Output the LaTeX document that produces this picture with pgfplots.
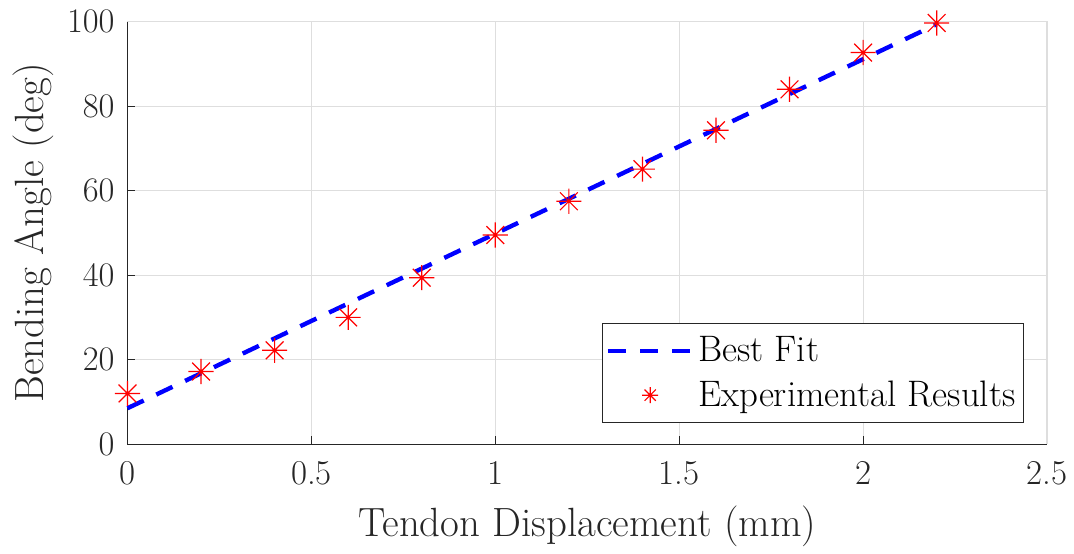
\documentclass[border=0pt]{standalone}
\usepackage{pgfplots}
\pgfplotsset{compat=1.18}
\definecolor{gridgray}{gray}{0.87}
\definecolor{axisgray}{gray}{0.15}
% eight-armed asterisk (plus and cross combined)
\pgfdeclareplotmark{star8}{%
  \pgfpathmoveto{\pgfqpoint{-\pgfplotmarksize}{0pt}}%
  \pgfpathlineto{\pgfqpoint{\pgfplotmarksize}{0pt}}%
  \pgfpathmoveto{\pgfqpoint{0pt}{-\pgfplotmarksize}}%
  \pgfpathlineto{\pgfqpoint{0pt}{\pgfplotmarksize}}%
  \pgfpathmoveto{\pgfqpoint{-0.707\pgfplotmarksize}{-0.707\pgfplotmarksize}}%
  \pgfpathlineto{\pgfqpoint{0.707\pgfplotmarksize}{0.707\pgfplotmarksize}}%
  \pgfpathmoveto{\pgfqpoint{-0.707\pgfplotmarksize}{0.707\pgfplotmarksize}}%
  \pgfpathlineto{\pgfqpoint{0.707\pgfplotmarksize}{-0.707\pgfplotmarksize}}%
  \pgfusepathqstroke}
\begin{document}
\begin{tikzpicture}
\begin{axis}[
  name=main,
  scale only axis,
  width=461.5pt, height=212pt,
  xmin=0, xmax=2.5, ymin=0, ymax=100,
  xtick={0,0.5,1,1.5,2,2.5},
  xticklabels={0,0.5,1,1.5,2,2.5},
  ytick={0,20,40,60,80,100},
  axis x line*=bottom, axis y line*=left,
  axis line style={axisgray, line width=0.6pt, -},
  tick style={axisgray, line width=0.6pt},
  tick align=inside,
  major tick length=4pt,
  grid=major,
  grid style={gridgray, line width=0.6pt},
  tick label style={font=\fontsize{17.5}{20}\selectfont, text=axisgray},
  xticklabel style={yshift=-5pt},
  yticklabel style={xshift=-3pt},
  label style={font=\fontsize{20.5}{24}\selectfont, text=axisgray},
  xlabel={Tendon Displacement (mm)},
  ylabel={Bending Angle (deg)},
  xlabel style={yshift=-4pt},
  legend style={at={(0.975,0.05)}, anchor=south east, draw=axisgray,
    line width=0.6pt, font=\fontsize{18.5}{22}\selectfont,
    inner xsep=2pt, inner ysep=4.5pt, row sep=4pt},
  legend cell align=left,
  clip=false,
]
% upper and right frame lines drawn light, like the grid
\draw[gridgray, line width=0.6pt] (axis cs:0,100) -- (axis cs:2.5,100) -- (axis cs:2.5,0);
\addplot[blue, line width=2.2pt, dash pattern=on 9pt off 7pt,
  legend image code/.code={\draw[blue, line width=2.2pt, dash pattern=on 9pt off 7pt] (0pt,0pt) -- (42pt,0pt);}]
  coordinates {(0,8.5) (2.2,99.4)};
\addlegendentry{Best Fit}
\addplot[only marks, red, mark=star8, mark size=6.3pt, line width=0.6pt,
  legend image code/.code={\draw[red, line width=0.6pt] plot[mark=star8, mark size=4pt] coordinates {(21pt,0pt)};}]
  coordinates {
  (0,12.0) (0.2,17.2) (0.4,22.2) (0.6,30.0) (0.8,39.4) (1.0,49.5)
  (1.2,57.5) (1.4,65.1) (1.6,74.3) (1.8,84.0) (2.0,92.7) (2.2,99.7)};
\addlegendentry{Experimental Results}
\end{axis}
% margin around the figure
\path (current bounding box.north west) ++(-3pt,2pt) coordinate (m1);
\path[use as bounding box] (m1) rectangle (current bounding box.south east);
\end{tikzpicture}
\end{document}
